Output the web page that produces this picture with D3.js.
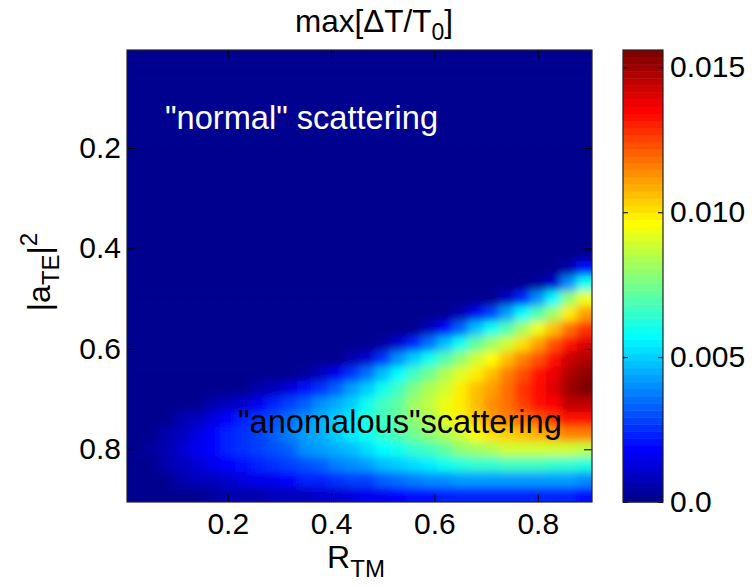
<!DOCTYPE html>
<html>
<head>
<meta charset="utf-8">
<script src="https://cdn.jsdelivr.net/npm/d3@7"></script>
<style>
body { margin: 0; background: #fff; }
text { font-family: "Liberation Sans", Arial, Helvetica, sans-serif; }
</style>
</head>
<body>
<svg id="chart" width="753" height="587"></svg>
<script>
// grid centres of R_TM (columns) and |a_TE|^2 (rows)
var xVals = [0.02,0.05,0.08,0.11,0.14,0.17,0.20,0.23,0.26,0.29,0.32,0.35,0.38,0.41,0.44,
             0.47,0.50,0.53,0.56,0.59,0.62,0.65,0.68,0.71,0.74,0.77,0.80,0.83,0.86,0.89];
var yVals = [0.02,0.05,0.08,0.11,0.14,0.17,0.20,0.23,0.26,0.29,0.32,0.35,0.38,0.41,0.44,
             0.47,0.50,0.53,0.56,0.59,0.62,0.65,0.68,0.71,0.74,0.77,0.80,0.83,0.86,0.89];

// max[dT/T0], in units of 1e-4 (one row per yVals entry)
var valuesE4 = [
  [0,0,0,0,0,0,0,0,0,0,0,0,0,0,0,0,0,0,0,0,0,0,0,0,0,0,0,0,0,0],
  [0,0,0,0,0,0,0,0,0,0,0,0,0,0,0,0,0,0,0,0,0,0,0,0,0,0,0,0,0,0],
  [0,0,0,0,0,0,0,0,0,0,0,0,0,0,0,0,0,0,0,0,0,0,0,0,0,0,0,0,0,0],
  [0,0,0,0,0,0,0,0,0,0,0,0,0,0,0,0,0,0,0,0,0,0,0,0,0,0,0,0,0,0],
  [0,0,0,0,0,0,0,0,0,0,0,0,0,0,0,0,0,0,0,0,0,0,0,0,0,0,0,0,0,0],
  [0,0,0,0,0,0,0,0,0,0,0,0,0,0,0,0,0,0,0,0,0,0,0,0,0,0,0,0,0,0],
  [0,0,0,0,0,0,0,0,0,0,0,0,0,0,0,0,0,0,0,0,0,0,0,0,0,0,0,0,0,0],
  [0,0,0,0,0,0,0,0,0,0,0,0,0,0,0,0,0,0,0,0,0,0,0,0,0,0,0,0,0,0],
  [0,0,0,0,0,0,0,0,0,0,0,0,0,0,0,0,0,0,0,0,0,0,0,0,0,0,0,0,0,0],
  [0,0,0,0,0,0,0,0,0,0,0,0,0,0,0,0,0,0,0,0,0,0,0,0,0,0,0,0,0,0],
  [0,0,0,0,0,0,0,0,0,0,0,0,0,0,0,0,0,0,0,0,0,0,0,0,0,0,0,0,0,0],
  [0,0,0,0,0,0,0,0,0,0,0,0,0,0,0,0,0,0,0,0,0,0,0,0,0,0,0,0,0,0],
  [0,0,0,0,0,0,0,0,0,0,0,0,0,0,0,0,0,0,0,0,0,0,0,0,0,0,0,0,0,0],
  [0,0,0,0,0,0,0,0,0,0,0,0,0,0,0,0,0,0,0,0,0,0,0,0,0,0,0,0,0,0],
  [0,0,0,0,0,0,0,0,0,0,0,0,0,0,0,0,0,0,0,0,0,0,0,0,0,0,0,0,6,20],
  [0,0,0,0,0,0,0,0,0,0,0,0,0,0,0,0,0,0,0,0,0,0,0,0,0,0,3,12,40,59],
  [0,0,0,0,0,0,0,0,0,0,0,0,0,0,0,0,0,0,0,0,0,0,0,0,8,22,39,57,78,93],
  [0,0,0,0,0,0,0,0,0,0,0,0,0,0,0,0,0,0,0,0,0,6,16,28,43,57,70,82,99,112],
  [0,0,0,0,0,0,0,0,0,0,0,0,0,0,0,0,0,0,0,8,19,34,48,59,70,81,93,105,119,129],
  [0,0,0,0,0,0,0,0,0,0,0,0,0,0,0,0,3,11,22,36,48,60,71,81,90,101,112,124,133,140],
  [0,0,0,0,0,0,0,0,0,0,0,0,0,0,5,12,26,39,50,60,70,79,88,96,105,115,124,133,143,147],
  [0,0,0,0,0,0,0,0,0,0,0,3,8,16,25,36,48,57,67,74,84,91,99,107,115,122,132,138,147,153],
  [0,0,0,0,0,0,0,0,5,9,14,20,26,34,42,51,60,68,76,84,90,98,105,112,119,127,133,140,149,155],
  [0,0,0,0,0,5,8,12,17,23,28,33,39,45,51,59,67,73,81,87,93,99,107,113,119,126,132,136,144,146],
  [0,0,0,5,9,14,19,22,26,31,36,40,45,50,56,62,68,73,79,85,91,98,104,110,115,119,122,127,132,132],
  [0,2,5,9,14,19,23,26,29,33,37,42,45,50,54,59,65,70,74,79,84,90,96,101,104,107,109,112,115,115],
  [0,3,6,11,16,19,22,25,28,31,34,39,42,45,48,53,57,60,65,68,73,78,82,85,88,90,90,90,88,87],
  [0,2,5,9,12,16,19,20,23,25,28,31,34,37,40,43,47,50,53,56,59,62,64,65,67,67,67,65,64,62],
  [0,0,2,5,8,9,12,14,16,17,19,22,23,26,28,29,33,36,37,39,40,42,42,43,43,43,43,43,42,40],
  [0,0,0,0,2,3,5,5,6,8,9,9,11,12,14,16,17,19,20,20,22,22,22,22,22,22,22,22,22,20]
];

var xTicks = [0.2, 0.4, 0.6, 0.8];
var yTicks = [0.2, 0.4, 0.6, 0.8];
var cbTicks = [0, 0.005, 0.010, 0.015];
var cbLabels = ['0.0', '0.005', '0.010', '0.015'];
var cMax = 0.0156;
var half = 0.015;

var pLeft = 127, pRight = 592, pTop = 50, pBottom = 502;
var cbLeft = 623, cbRight = 663;
var fontSize = 30;
var pad = 20; // edge cells are stretched outward so the smoothing has no border fade

// MATLAB jet(m)
function jet(m) {
  var n = Math.ceil(m / 4), u = [], i, k;
  for (i = 1; i <= n; i++) u.push(i / n);
  for (i = 1; i < n; i++) u.push(1);
  for (i = n; i >= 1; i--) u.push(i / n);
  var g0 = Math.ceil(n / 2) - (m % 4 === 1 ? 1 : 0);
  var J = d3.range(m).map(function() { return [0, 0, 0]; });
  for (k = 0; k < u.length; k++) {
    var g = g0 + k + 1, r = g + n, b = g - n;
    if (r >= 1 && r <= m) J[r - 1][0] = u[k];
    if (g >= 1 && g <= m) J[g - 1][1] = u[k];
    if (b >= 1 && b <= m) J[b - 1][2] = u[k];
  }
  return J.map(function(c) { return d3.rgb(c[0] * 255, c[1] * 255, c[2] * 255).formatHex(); });
}
var jetColors = jet(64);

var x = d3.scaleLinear().domain([0.005, 0.905]).range([pLeft, pRight]);
var y = d3.scaleLinear().domain([0.005, 0.905]).range([pTop, pBottom]);
var color = d3.scaleQuantize().domain([0, cMax]).range(jetColors);
var cy = d3.scaleLinear().domain([0, cMax]).range([pBottom, pTop]);

var cells = [];
valuesE4.forEach(function(row, i) {
  row.forEach(function(v, j) {
    cells.push({ x: xVals[j], y: yVals[i], v: v * 1e-4, i: i, j: j });
  });
});
var nCol = xVals.length, nRow = yVals.length;
function x0(d) { return d.j === 0 ? pLeft - pad : x(d.x - half); }
function x1(d) { return d.j === nCol - 1 ? pRight + pad : x(d.x + half) + 0.5; }
function y0(d) { return d.i === 0 ? pTop - pad : y(d.y - half); }
function y1(d) { return d.i === nRow - 1 ? pBottom + pad : y(d.y + half) + 0.5; }

var svg = d3.select('#chart');
var defs = svg.append('defs');
defs.append('clipPath').attr('id', 'plotClip')
  .append('rect').attr('x', pLeft).attr('y', pTop)
  .attr('width', pRight - pLeft).attr('height', pBottom - pTop);
var blur = defs.append('filter').attr('id', 'smooth')
  .attr('filterUnits', 'userSpaceOnUse')
  .attr('x', pLeft - pad).attr('y', pTop - pad)
  .attr('width', pRight - pLeft + 2 * pad).attr('height', pBottom - pTop + 2 * pad);
blur.append('feGaussianBlur').attr('stdDeviation', 4.5);

var heat = svg.append('g').attr('clip-path', 'url(#plotClip)')
  .append('g').attr('filter', 'url(#smooth)');
heat.selectAll('rect.cell')
  .data(cells)
  .enter()
  .append('rect')
  .attr('class', 'cell')
  .attr('x', x0)
  .attr('y', y0)
  .attr('width', function(d) { return x1(d) - x0(d); })
  .attr('height', function(d) { return y1(d) - y0(d); })
  .attr('fill', function(d) { return color(d.v); });

// annotations
svg.append('text')
  .attr('x', 165).attr('y', 129)
  .attr('font-size', 32.6).attr('fill', '#fff')
  .text('"normal" scattering');
svg.append('text')
  .attr('x', 238).attr('y', 433)
  .attr('font-size', 32.6).attr('fill', '#000')
  .text('"anomalous"scattering');

// axes, ticks inward on all four sides
function styleAxis(g) {
  g.select('.domain').remove();
  g.selectAll('line').attr('stroke', '#000');
  g.selectAll('text').attr('font-size', fontSize).attr('fill', '#000')
    .attr('font-family', '"Liberation Sans", Arial, Helvetica, sans-serif');
}
svg.append('g').attr('transform', 'translate(0,' + pBottom + ')')
  .call(d3.axisBottom(x).tickValues(xTicks).tickSizeInner(-8).tickSizeOuter(0)
    .tickPadding(11).tickFormat(d3.format('.1f')))
  .call(styleAxis);
svg.append('g').attr('transform', 'translate(0,' + pTop + ')')
  .call(d3.axisTop(x).tickValues(xTicks).tickSizeInner(-8).tickSizeOuter(0).tickFormat(''))
  .call(styleAxis);
svg.append('g').attr('transform', 'translate(' + pLeft + ',0)')
  .call(d3.axisLeft(y).tickValues(yTicks).tickSizeInner(-8).tickSizeOuter(0)
    .tickPadding(6).tickFormat(d3.format('.1f')))
  .call(styleAxis);
svg.append('g').attr('transform', 'translate(' + pRight + ',0)')
  .call(d3.axisRight(y).tickValues(yTicks).tickSizeInner(-8).tickSizeOuter(0).tickFormat(''))
  .call(styleAxis);
svg.append('rect')
  .attr('x', pLeft).attr('y', pTop)
  .attr('width', pRight - pLeft).attr('height', pBottom - pTop)
  .attr('fill', 'none').attr('stroke', '#222').attr('stroke-width', 1.2);

// title and axis labels
var title = svg.append('text').attr('x', 295).attr('y', 32).attr('font-size', 31.5);
title.append('tspan').text('max[\u0394T/T');
title.append('tspan').attr('dy', 8).attr('font-size', 23).text('0');
title.append('tspan').attr('dy', -8).text(']');

var xl = svg.append('text').attr('x', 356).attr('y', 568)
  .attr('text-anchor', 'middle').attr('font-size', 32);
xl.append('tspan').text('R');
xl.append('tspan').attr('dy', 9).attr('font-size', 24).text('TM');

var yl = svg.append('text')
  .attr('transform', 'translate(50,272) rotate(-90)')
  .attr('text-anchor', 'middle').attr('font-size', 32);
yl.append('tspan').text('|a');
yl.append('tspan').attr('dy', 9).attr('font-size', 24).text('TE');
yl.append('tspan').attr('dy', -9).text('|');
yl.append('tspan').attr('dy', -13).attr('font-size', 24).text('2');

// colorbar
var step = cMax / jetColors.length;
svg.append('g').selectAll('rect')
  .data(jetColors)
  .enter()
  .append('rect')
  .attr('x', cbLeft)
  .attr('y', function(d, i) { return cy((i + 1) * step); })
  .attr('width', cbRight - cbLeft)
  .attr('height', function(d, i) { return cy(i * step) - cy((i + 1) * step) + 0.5; })
  .attr('fill', function(d) { return d; });
svg.append('g').attr('transform', 'translate(' + cbRight + ',0)')
  .call(d3.axisRight(cy).tickValues(cbTicks).tickSizeInner(-5).tickSizeOuter(0)
    .tickPadding(7).tickFormat(function(d, i) { return cbLabels[i]; }))
  .call(styleAxis);
svg.append('g').attr('transform', 'translate(' + cbLeft + ',0)')
  .call(d3.axisLeft(cy).tickValues(cbTicks).tickSizeInner(-5).tickSizeOuter(0).tickFormat(''))
  .call(styleAxis);
svg.append('rect')
  .attr('x', cbLeft).attr('y', pTop)
  .attr('width', cbRight - cbLeft).attr('height', pBottom - pTop)
  .attr('fill', 'none').attr('stroke', '#222').attr('stroke-width', 1.2);
</script>
</body>
</html>
